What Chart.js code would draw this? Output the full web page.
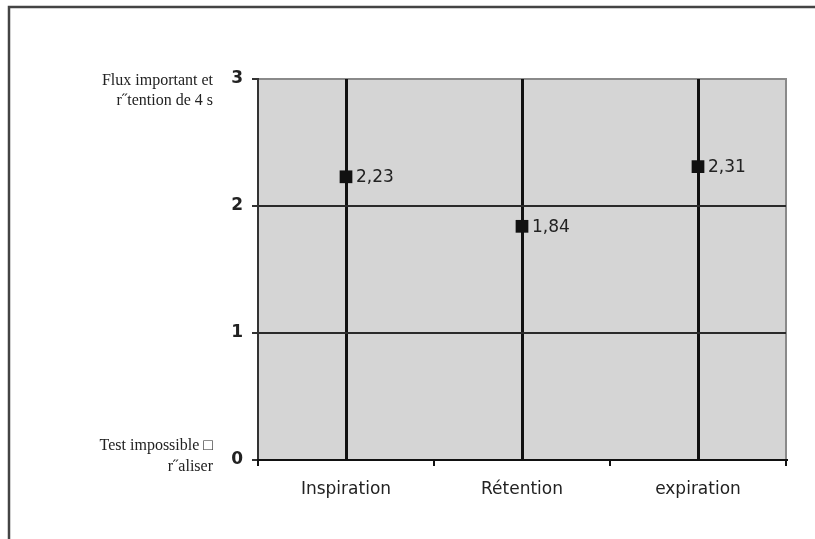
<!DOCTYPE html>
<html>
<head>
<meta charset="utf-8">
<script src="https://cdn.jsdelivr.net/npm/chart.js@4/dist/chart.umd.min.js"></script>
<style>
  html, body { margin: 0; padding: 0; background: #fff; }
  #wrap { width: 815px; height: 539px; }
</style>
</head>
<body>
<div id="wrap"><canvas id="c" width="815" height="539"></canvas></div>
<script>
// Categories and mean scores
const categories = ["Inspiration", "Rétention", "expiration"];
const scores = [2.23, 1.84, 2.31];
const scoreLabels = ["2,23", "1,84", "2,31"];
// Descriptive captions attached to the ends of the scale
const topCaption = ["Flux important et", "r˝tention de 4 s"];
const bottomCaption = ["Test impossible □", "r˝aliser"];

const framePlugin = {
  id: "frame",
  beforeDraw(chart) {
    const { ctx, chartArea: a } = chart;
    ctx.save();
    ctx.fillStyle = "#d5d5d5";
    ctx.fillRect(a.left, a.top, a.right - a.left, a.bottom - a.top);
    // top and right plot edges
    ctx.strokeStyle = "#8a8a8a";
    ctx.lineWidth = 2;
    ctx.beginPath();
    ctx.moveTo(a.left, a.top);
    ctx.lineTo(a.right, a.top);
    ctx.lineTo(a.right, a.bottom);
    ctx.stroke();
    // outer frame
    ctx.strokeStyle = "#444";
    ctx.lineWidth = 2.5;
    ctx.beginPath();
    ctx.moveTo(9, 539);
    ctx.lineTo(9, 7);
    ctx.lineTo(815, 7);
    ctx.stroke();
    ctx.restore();
  },
  afterDraw(chart) {
    const { ctx, chartArea: a, scales } = chart;
    const x = scales.x, y = scales.y;
    ctx.save();
    // tick marks at category boundaries
    ctx.strokeStyle = "#111";
    ctx.lineWidth = 2;
    const half = (x.getPixelForValue(1) - x.getPixelForValue(0)) / 2;
    ctx.beginPath();
    for (let i = 0; i <= categories.length; i++) {
      const px = Math.round(x.getPixelForValue(0) - half + i * 2 * half);
      ctx.moveTo(px, a.bottom - 1);
      ctx.lineTo(px, a.bottom + 6);
    }
    ctx.stroke();
    // captions on the ends of the scale
    ctx.fillStyle = "#222";
    ctx.font = "16px 'Liberation Serif'";
    ctx.textAlign = "right";
    ctx.textBaseline = "middle";
    const yTop = y.getPixelForValue(3);
    ctx.fillText(topCaption[0], 213, yTop + 2);
    ctx.fillText(topCaption[1], 213, yTop + 22);
    const yBot = y.getPixelForValue(0);
    ctx.fillText(bottomCaption[0], 213, yBot - 14);
    ctx.fillText(bottomCaption[1], 213, yBot + 7);
    // value labels beside the markers
    ctx.font = "17px 'DejaVu Sans'";
    ctx.textAlign = "left";
    ctx.fillStyle = "#222";
    const meta = chart.getDatasetMeta(0);
    meta.data.forEach((pt, i) => {
      ctx.fillText(scoreLabels[i], pt.x + 10, pt.y + 1);
    });
    ctx.restore();
  }
};

new Chart(document.getElementById("c"), {
  type: "line",
  data: {
    labels: categories,
    datasets: [{
      data: scores,
      showLine: false,
      pointStyle: "rect",
      pointRadius: 9,
      pointHoverRadius: 9,
      backgroundColor: "#111",
      borderColor: "#111",
      borderWidth: 0
    }]
  },
  options: {
    responsive: false,
    animation: false,
    events: [],
    layout: { padding: { left: 0, top: 79, right: 29, bottom: 0 } },
    plugins: { legend: { display: false }, tooltip: { enabled: false } },
    scales: {
      x: {
        offset: true,
        grid: { offset: false, color: "#111", lineWidth: 3, drawTicks: false },
        border: { display: true, color: "#111", width: 2 },
        ticks: { padding: 19, color: "#222", font: { family: "DejaVu Sans", size: 17 } },
        afterFit(s) { s.height = 79; }
      },
      y: {
        min: 0, max: 3,
        ticks: { stepSize: 1, padding: 9, color: "#222", font: { family: "DejaVu Sans", size: 17, weight: "bold" } },
        grid: { color: (c) => (c.tick && (c.tick.value === 0 || c.tick.value === 3)) ? "rgba(0,0,0,0)" : "#2a2a2a",
                lineWidth: 2, tickLength: 6, tickColor: "#333", drawTicks: true },
        border: { display: true, color: "#333", width: 2 },
        afterFit(s) { s.width = 258; }
      }
    }
  },
  plugins: [framePlugin]
});
</script>
</body>
</html>
